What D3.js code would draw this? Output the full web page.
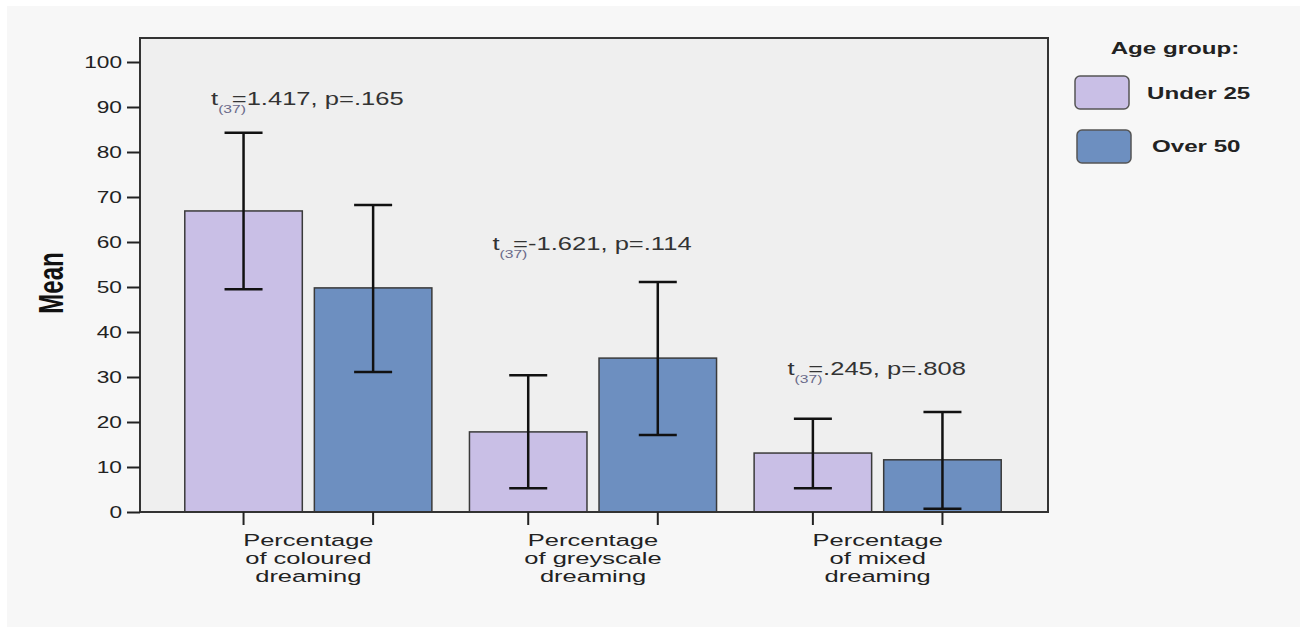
<!DOCTYPE html>
<html>
<head>
<meta charset="utf-8">
<script src="https://cdn.jsdelivr.net/npm/d3@7"></script>
<style>
  body { margin: 0; background: #fff; }
  svg { display: block; font-family: "Liberation Sans", Arial, sans-serif; }
</style>
</head>
<body>
<svg id="chart"></svg>
<script>
// ===== DATA =====
const categories = ["Percentage of coloured dreaming", "Percentage of greyscale dreaming", "Percentage of mixed dreaming"];
const categoryLines = [
  ["Percentage", "of coloured", "dreaming"],
  ["Percentage", "of greyscale", "dreaming"],
  ["Percentage", "of mixed", "dreaming"]
];
const groups = ["Under 25", "Over 50"];
const under25Mean = [66.9, 17.8, 13.1];
const under25Low = [49.5, 5.3, 5.3];
const under25High = [84.3, 30.4, 20.7];
const over50Mean = [49.8, 34.2, 11.6];
const over50Low = [31.1, 17.1, 0.7];
const over50High = [68.2, 51.1, 22.2];
const testStats = ["=1.417, p=.165", "=-1.621, p=.114", "=.245, p=.808"];
const testLabelAt = [90.4, 58.2, 30.4];   // label height, in "Mean" units
const yTicks = [0, 10, 20, 30, 40, 50, 60, 70, 80, 90, 100];
const colors = { "Under 25": "#c9bfe6", "Over 50": "#6d8fc0" };

// the source image is stretched sideways, so the texts are too
const STRETCH = 1.42;

function renderChart() {
  const width = 1303, height = 631;
  const svg = d3.select("#chart").attr("width", width).attr("height", height);

  const plot = { left: 140, right: 1048, top: 38, bottom: 512 };

  // outer panel
  svg.append("rect")
    .attr("x", 7).attr("y", 6)
    .attr("width", 1293).attr("height", 621)
    .attr("fill", "#f7f7f7");

  svg.append("rect")
    .attr("x", plot.left).attr("y", plot.top)
    .attr("width", plot.right - plot.left)
    .attr("height", plot.bottom - plot.top)
    .attr("fill", "#efefef");

  const yScale = d3.scaleLinear()
    .domain([0, 100])
    .range([plot.bottom, 62]);

  const x0 = d3.scaleBand()
    .domain(categories)
    .range([166, 1020])
    .paddingInner(0.132)
    .paddingOuter(0.066);

  const x1 = d3.scaleBand()
    .domain(groups)
    .range([0, x0.bandwidth()])
    .paddingInner(0.093);

  const rows = [];
  categories.forEach((c, i) => {
    rows.push({ cat: c, group: "Under 25", mean: under25Mean[i], lo: under25Low[i], hi: under25High[i] });
    rows.push({ cat: c, group: "Over 50", mean: over50Mean[i], lo: over50Low[i], hi: over50High[i] });
  });

  const barCenter = d => x0(d.cat) + x1(d.group) + x1.bandwidth() / 2;

  svg.append("g")
    .selectAll("rect")
    .data(rows)
    .enter()
    .append("rect")
    .attr("x", d => x0(d.cat) + x1(d.group))
    .attr("y", d => yScale(d.mean))
    .attr("width", x1.bandwidth())
    .attr("height", d => yScale(0) - yScale(d.mean))
    .attr("fill", d => colors[d.group])
    .attr("stroke", "#3a3a3a")
    .attr("stroke-width", 1.5);

  // ===== ERROR BARS =====
  const err = svg.append("g")
    .attr("stroke", "#111")
    .attr("stroke-width", 2.5);

  rows.forEach(d => {
    const cx = barCenter(d);
    err.append("line")
      .attr("x1", cx).attr("x2", cx)
      .attr("y1", yScale(d.hi)).attr("y2", yScale(d.lo));
    [d.hi, d.lo].forEach(v => {
      err.append("line")
        .attr("x1", cx - 19).attr("x2", cx + 19)
        .attr("y1", yScale(v)).attr("y2", yScale(v));
    });
  });

  // frame
  svg.append("rect")
    .attr("x", plot.left).attr("y", plot.top)
    .attr("width", plot.right - plot.left)
    .attr("height", plot.bottom - plot.top)
    .attr("fill", "none")
    .attr("stroke", "#333")
    .attr("stroke-width", 2);

  // ===== AXES =====
  const yAxis = svg.append("g")
    .attr("transform", `translate(${plot.left},0)`)
    .call(d3.axisLeft(yScale).tickValues(yTicks).tickSize(13).tickPadding(5));
  yAxis.select(".domain").remove();
  yAxis.selectAll(".tick line").attr("stroke", "#222").attr("stroke-width", 2);
  yAxis.selectAll(".tick text")
    .attr("x", -18 / STRETCH)
    .attr("transform", `scale(${STRETCH},1)`)
    .attr("font-size", 16)
    .attr("fill", "#222");

  const xTicks = svg.append("g");
  rows.forEach(d => {
    const cx = barCenter(d);
    xTicks.append("line")
      .attr("x1", cx).attr("x2", cx)
      .attr("y1", plot.bottom).attr("y2", plot.bottom + 13)
      .attr("stroke", "#222")
      .attr("stroke-width", 2);
  });

  // category labels, one text per line
  categories.forEach((c, i) => {
    const cx = x0(c) + x0.bandwidth() / 2;
    categoryLines[i].forEach((ln, j) => {
      svg.append("text")
        .attr("transform", `translate(${cx},${546 + j * 18}) scale(1.5,1)`)
        .attr("text-anchor", "middle")
        .attr("font-size", 17)
        .attr("fill", "#222")
        .text(ln);
    });
  });

  svg.append("text")
    .attr("transform", "translate(63,283) rotate(-90) scale(1,1.45)")
    .attr("text-anchor", "middle")
    .attr("font-size", 24)
    .attr("font-weight", 700)
    .attr("font-family", "Liberation Sans Narrow, Arial Narrow, Liberation Sans, sans-serif")
    .attr("fill", "#111")
    .text("Mean");

  // ===== T-TEST LABELS =====
  testStats.forEach((s, i) => {
    const cx = x0(categories[i]) + x0.bandwidth() / 2 - 1;
    const t = svg.append("text")
      .attr("transform", `translate(${cx},${yScale(testLabelAt[i])}) scale(${STRETCH},1)`)
      .attr("text-anchor", "middle")
      .attr("font-size", 18)
      .attr("fill", "#333");
    t.append("tspan").text("t");
    t.append("tspan")
      .attr("dy", 8)
      .attr("font-size", 11)
      .attr("fill", "#6a6a8a")
      .text("(37)");
    t.append("tspan")
      .attr("dy", -8)
      .attr("dx", -10)
      .text(s);
  });

  // ===== LEGEND =====
  const legend = svg.append("g");
  legend.append("text")
    .attr("transform", `translate(1175,54) scale(${STRETCH},1)`)
    .attr("text-anchor", "middle")
    .attr("font-size", 17)
    .attr("font-weight", 700)
    .attr("fill", "#222")
    .text("Age group:");

  groups.forEach((g, i) => {
    legend.append("rect")
      .attr("x", 1075 + i * 2)
      .attr("y", 76 + i * 54)
      .attr("width", 54)
      .attr("height", 33)
      .attr("rx", 5)
      .attr("fill", colors[g])
      .attr("stroke", "#555")
      .attr("stroke-width", 1.5);
    legend.append("text")
      .attr("transform", `translate(${1147 + i * 5},${99 + i * 53}) scale(${STRETCH},1)`)
      .attr("font-size", 17)
      .attr("font-weight", 700)
      .attr("fill", "#222")
      .text(g);
  });
}

renderChart();
</script>
</body>
</html>
